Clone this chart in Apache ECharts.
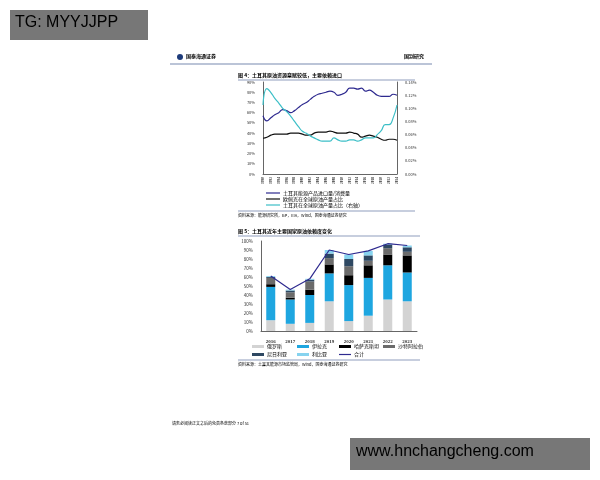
<!DOCTYPE html>
<html><head><meta charset="utf-8">
<script src="https://cdn.jsdelivr.net/npm/echarts@6/dist/echarts.min.js"></script>
<style>html,body{margin:0;background:#fff}#c{width:600px;height:480px}</style>
</head><body><div id="c"></div>
<script>
const years = []
for (let y = 1990; y <= 2024; y++) years.push(String(y))
const importRatio = [57,52,55,58,60,63,62,60,62,65,68,70,73,76,78,79,80,81,80,77,78,80,84,84,83,84,81,82,80,77,76,76,76,78,77]
const opecShare = [35,36,38,39,39,39,39,40,40,40,39,38,38,40,41,41,41,42,41,40,40,40,41,40,39,36,37,38,37,36,34,33,34,34,33]
const turkeyShare = [0.105,0.13,0.124,0.115,0.108,0.1,0.095,0.088,0.08,0.072,0.065,0.062,0.058,0.055,0.052,0.05,0.05,0.05,0.055,0.052,0.05,0.05,0.052,0.052,0.05,0.052,0.055,0.055,0.055,0.06,0.066,0.075,0.075,0.085,0.105]

const barYears = ['2016','2017','2018','2019','2020','2021','2022','2023']
const russia = [12,8,9,33,11,17,35,33]
const iraq = [37,27,31,31,40,42,38,32]
const kazakh = [3,2,6,10,11,14,12,19]
const saudi = [7,6,9,7,10,5,7,4]
const nigeria = [1,2,2,5,8,6,4,5]
const libya = [1,1,1,4,5,5,1,2]
const total = [61,46,58,90,85,89,97,95]

const F = 'Noto Sans CJK SC'
const small = { fontSize: 5, color: '#333', fontFamily: F }
const txt = (x, y, text, s = {}) => ({ type: 'text', left: x, top: y, style: { text, ...small, ...s } })
const pct = v => v + '%'

const chart = echarts.init(document.getElementById('c'))
const bars = [
  ['俄罗斯', russia, '#d3d3d3'], ['伊拉克', iraq, '#1ea6e0'], ['哈萨克斯坦', kazakh, '#000'],
  ['沙特阿拉伯', saudi, '#6b6b6b'], ['尼日利亚', nigeria, '#2e4862'], ['利比亚', libya, '#86d3ef'],
]
chart.setOption({
  textStyle: { fontFamily: F },
  animation: false,
  grid: [
    { left: 263, width: 134, top: 82, height: 92 },
    { left: 261, width: 156, top: 241, height: 90 },
  ],
  xAxis: [
    { gridIndex: 0, type: 'category', data: years, boundaryGap: false,
      axisLine: { lineStyle: { color: '#666' } }, axisTick: { show: false },
      axisLabel: { interval: 1, rotate: 90, fontSize: 3.5, margin: 3, color: '#333', fontWeight: 'bold', fontFamily: 'Liberation Sans Narrow' } },
    { gridIndex: 1, type: 'category', data: barYears, axisTick: { show: false },
      axisLine: { lineStyle: { color: '#666' } },
      axisLabel: { fontSize: 5, color: '#333', fontWeight: 'bold', fontFamily: 'Liberation Serif' } },
  ],
  yAxis: [
    { gridIndex: 0, min: 0, max: 90, interval: 10, splitLine: { show: false },
      axisLine: { show: true, lineStyle: { color: '#666' } }, axisLabel: { fontSize: 4, color: '#333', formatter: pct } },
    { gridIndex: 0, min: 0, max: 0.14, interval: 0.02, position: 'right', splitLine: { show: false },
      axisLine: { show: true, lineStyle: { color: '#666' } }, axisLabel: { fontSize: 4, color: '#333', formatter: v => v.toFixed(2) + '%' } },
    { gridIndex: 1, min: 0, max: 100, interval: 10, splitLine: { show: false },
      axisLine: { show: true, lineStyle: { color: '#666' } }, axisLabel: { fontSize: 4.5, color: '#333', formatter: pct } },
  ],
  series: [
    { type: 'line', data: importRatio, xAxisIndex: 0, yAxisIndex: 0, symbol: 'none', smooth: true, lineStyle: { color: '#2e2a8f', width: 1.2 } },
    { type: 'line', data: opecShare, xAxisIndex: 0, yAxisIndex: 0, symbol: 'none', smooth: true, lineStyle: { color: '#111', width: 1.2 } },
    { type: 'line', data: turkeyShare, xAxisIndex: 0, yAxisIndex: 1, symbol: 'none', smooth: true, lineStyle: { color: '#3cbfc7', width: 1.2 } },
    ...bars.map(([name, data, color]) => ({ name, type: 'bar', stack: 'b', data, xAxisIndex: 1, yAxisIndex: 2, barWidth: 9, itemStyle: { color } })),
    { name: '合计', type: 'line', data: total, xAxisIndex: 1, yAxisIndex: 2, symbol: 'none', lineStyle: { color: '#2e2a8f', width: 1.2 } },
  ],
  graphic: [
    { type: 'rect', shape: { x: 10, y: 10, width: 138, height: 30 }, style: { fill: '#777' } },
    txt(15, 15, 'TG: MYYJJPP', { fontSize: 16, color: '#fff', fontFamily: 'Liberation Sans' }),
    { type: 'rect', shape: { x: 350, y: 438, width: 240, height: 32 }, style: { fill: '#777' } },
    txt(356, 444, 'www.hnchangcheng.com', { fontSize: 16, color: '#fff', fontFamily: 'Liberation Sans' }),
    { type: 'circle', shape: { cx: 180, cy: 57, r: 3 }, style: { fill: '#1d3b7a' } },
    txt(186, 54, '国泰海通证券', { fontSize: 5, color: '#1d3b7a', fontWeight: 'bold' }),
    txt(404, 54, '国别研究', { fontSize: 5, color: '#1d3b7a', fontWeight: 'bold' }),
    { type: 'line', shape: { x1: 170, y1: 64, x2: 432, y2: 64 }, style: { stroke: '#1d3b7a', lineWidth: 0.6 } },
    txt(238, 73, '图 4：土耳其原油资源禀赋较低，主要依赖进口', { fontWeight: 'bold', fontSize: 5 }),
    { type: 'line', shape: { x1: 238, y1: 80, x2: 415, y2: 80 }, style: { stroke: '#1d3b7a', lineWidth: 0.5 } },
    { type: 'line', shape: { x1: 266, y1: 193, x2: 280, y2: 193 }, style: { stroke: '#2e2a8f', lineWidth: 1.2 } },
    txt(283, 190.5, '土耳其能源产品进口量/消费量'),
    { type: 'line', shape: { x1: 266, y1: 199, x2: 280, y2: 199 }, style: { stroke: '#111', lineWidth: 1.2 } },
    txt(283, 196.5, '欧佩克在全球原油产量占比'),
    { type: 'line', shape: { x1: 266, y1: 205, x2: 280, y2: 205 }, style: { stroke: '#3cbfc7', lineWidth: 1.2 } },
    txt(283, 202.5, '土耳其在全球原油产量占比（右轴）'),
    { type: 'line', shape: { x1: 238, y1: 211, x2: 415, y2: 211 }, style: { stroke: '#1d3b7a', lineWidth: 0.5 } },
    txt(238, 213, '资料来源：能源研究所，BP，EIA，Wind，国泰海通证券研究', { fontSize: 4 }),
    txt(238, 229, '图 5：土耳其近年主要国家原油依赖度变化', { fontWeight: 'bold', fontSize: 5 }),
    { type: 'line', shape: { x1: 238, y1: 236, x2: 420, y2: 236 }, style: { stroke: '#1d3b7a', lineWidth: 0.5 } },
    ...[['俄罗斯', '#d3d3d3', 252, 344], ['伊拉克', '#1ea6e0', 297, 344], ['哈萨克斯坦', '#000', 339, 344], ['沙特阿拉伯', '#6b6b6b', 383, 344],
        ['尼日利亚', '#2e4862', 252, 352], ['利比亚', '#86d3ef', 297, 352]].flatMap(([n, c, x, y]) => [
      { type: 'rect', shape: { x, y: y + 1, width: 12, height: 3 }, style: { fill: c } }, txt(x + 15, y, n)]),
    { type: 'line', shape: { x1: 339, y1: 354.5, x2: 351, y2: 354.5 }, style: { stroke: '#2e2a8f', lineWidth: 1.2 } },
    txt(354, 352, '合计'),
    { type: 'line', shape: { x1: 238, y1: 360, x2: 420, y2: 360 }, style: { stroke: '#1d3b7a', lineWidth: 0.5 } },
    txt(238, 362, '资料来源：土耳其能源市场监管局，Wind，国泰海通证券研究', { fontSize: 4 }),
    txt(172, 421, '请务必阅读正文之后的免责条款部分 7 of 51', { fontSize: 4 }),
  ],
})
</script></body></html>
